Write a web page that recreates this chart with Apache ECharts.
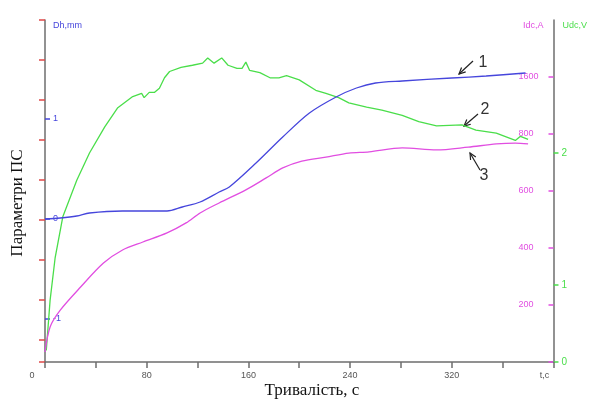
<!DOCTYPE html>
<html>
<head>
<meta charset="utf-8">
<script src="https://cdn.jsdelivr.net/npm/echarts@6/dist/echarts.min.js"></script>
<style>
  html, body { margin: 0; padding: 0; background: #fff; }
  #main { width: 590px; height: 401px; }
</style>
</head>
<body>
<div id="main"></div>
<script>
// time axis, s
var xTicks = [0, 40, 80, 120, 160, 200, 240, 280, 320, 360, 400];
var xTickLabels = ['0', '', '80', '', '160', '', '240', '', '320', '', 't,c'];

// curve 1 - Dh, mm
var dhTime = [0, 12, 25, 35, 61, 96, 108, 122, 137, 145, 166, 187, 208, 229, 245, 260, 281, 320, 347, 378];
var dhValues = [0, 0.01, 0.03, 0.06, 0.08, 0.08, 0.12, 0.17, 0.27, 0.32, 0.56, 0.82, 1.06, 1.22, 1.31, 1.36, 1.38, 1.41, 1.43, 1.46];
var dhTicks = [-1, 0, 1];

// curve 2 - Udc, V
var udcTime = [1, 4, 8, 14, 25, 35, 47, 57, 69, 76, 78, 82, 86, 90, 94, 98, 107, 116, 124, 128, 133, 139, 144, 151, 155, 158, 161, 169, 177, 184, 190, 200, 213, 221, 231, 239, 253, 265, 281, 294, 308, 328, 339, 355, 370, 374, 380];
var udcValues = [0.11, 0.59, 1.0, 1.39, 1.74, 2.0, 2.25, 2.43, 2.54, 2.57, 2.53, 2.58, 2.58, 2.62, 2.72, 2.78, 2.82, 2.84, 2.86, 2.91, 2.86, 2.91, 2.84, 2.81, 2.81, 2.87, 2.79, 2.77, 2.72, 2.72, 2.74, 2.7, 2.6, 2.57, 2.53, 2.48, 2.44, 2.41, 2.36, 2.3, 2.26, 2.27, 2.22, 2.19, 2.12, 2.16, 2.13];
var udcTicks = [0, 0.737, 2];
var udcTickLabels = ['0', '1', '2'];

// curve 3 - Idc, A
var idcTime = [0, 4, 12, 28, 46, 61, 77, 96, 111, 122, 137, 158, 174, 187, 202, 221, 239, 255, 281, 308, 333, 355, 370, 380];
var idcValues = [35, 123, 182, 263, 347, 393, 421, 453, 488, 523, 558, 604, 646, 681, 705, 719, 733, 737, 751, 744, 754, 765, 768, 765];
var idcTicks = [0, 200, 400, 600, 800, 1000];
var idcLabelValues = [200, 400, 600, 800, 1000];
var idcTickLabels = ['200', '400', '600', '800', '1600'];

// red scale marks on the left axis (no labels)
var redTicks = [0, 22, 62, 102, 142, 182, 222, 262, 302, 342];

function pairs(xs, ys) {
  var out = [];
  for (var i = 0; i < xs.length; i++) out.push([xs[i], ys[i]]);
  return out;
}

function arrow(x1, y1, x2, y2) {
  // shaft from (x1,y1) to tip (x2,y2) with a small V head
  var dx = x2 - x1, dy = y2 - y1;
  var len = Math.sqrt(dx * dx + dy * dy);
  var ux = dx / len, uy = dy / len;
  var h = 7, a = 0.45;
  var c = Math.cos(a), s = Math.sin(a);
  var p1 = [x2 - h * (ux * c - uy * s), y2 - h * (uy * c + ux * s)];
  var p2 = [x2 - h * (ux * c + uy * s), y2 - h * (uy * c - ux * s)];
  return [
    { type: 'line', shape: { x1: x1, y1: y1, x2: x2, y2: y2 }, style: { stroke: '#222', lineWidth: 1.2 } },
    { type: 'polyline', shape: { points: [p1, [x2, y2], p2] }, style: { stroke: '#222', lineWidth: 1.2, fill: null } }
  ];
}

var axisGray = '#6e6e6e';
var labelFont = 'Liberation Sans';
var blue = '#4646dc';
var green = '#4ade4a';
var magenta = '#e14ee1';

var chart = echarts.init(document.getElementById('main'), null, { renderer: 'canvas' });

var graphics = [];
graphics = graphics.concat(arrow(473, 61, 459, 74));
graphics = graphics.concat(arrow(478, 114, 464, 126));
graphics = graphics.concat(arrow(480, 170, 470, 153));
graphics.push({ type: 'text', x: 483, y: 63, style: { text: '1', font: '16px "Liberation Sans"', fill: '#333', textAlign: 'center', textVerticalAlign: 'middle' } });
graphics.push({ type: 'text', x: 485, y: 110, style: { text: '2', font: '16px "Liberation Sans"', fill: '#333', textAlign: 'center', textVerticalAlign: 'middle' } });
graphics.push({ type: 'text', x: 484, y: 176, style: { text: '3', font: '16px "Liberation Sans"', fill: '#333', textAlign: 'center', textVerticalAlign: 'middle' } });
graphics.push({ type: 'text', x: 18, y: 203, rotation: Math.PI / 2, style: { text: 'Параметри ПС', font: '17px "Liberation Serif"', fill: '#111', textAlign: 'center', textVerticalAlign: 'middle' } });
graphics.push({ type: 'text', x: 312, y: 391, style: { text: 'Тривалість, с', font: '17px "Liberation Serif"', fill: '#111', textAlign: 'center', textVerticalAlign: 'middle' } });

var option = {
  animation: false,
  backgroundColor: '#fff',
  grid: { left: 45, right: 34, top: 20, bottom: 39 },
  xAxis: {
    type: 'value',
    min: 0,
    max: 400,
    interval: 40,
    splitLine: { show: false },
    axisLine: { onZero: false, lineStyle: { color: axisGray, width: 1.5 } },
    axisTick: { length: 6, lineStyle: { color: axisGray, width: 1.5 } },
    axisLabel: {
      color: '#555',
      fontFamily: labelFont,
      fontSize: 9,
      margin: 9,
      showMinLabel: true,
      showMaxLabel: true,
      formatter: function (v) {
        var i = xTicks.indexOf(v);
        var s = i >= 0 ? xTickLabels[i] : '';
        if (v === 0) return '{z|' + s + '}';
        if (v === 400) return '{e|' + s + '}';
        return s;
      },
      rich: {
        z: { color: '#555', fontFamily: labelFont, fontSize: 9, padding: [0, 26, 0, 0] },
        e: { color: '#555', fontFamily: labelFont, fontSize: 9, padding: [0, 18, 0, 0] }
      }
    }
  },
  yAxis: [
    {
      // Dh, mm
      type: 'value',
      position: 'left',
      min: -1.43,
      max: 1.99,
      name: 'Dh,mm',
      nameLocation: 'end',
      nameGap: -6,
      nameTextStyle: { color: blue, fontFamily: labelFont, fontSize: 9, align: 'left', verticalAlign: 'middle', padding: [0, 0, 0, 8] },
      splitLine: { show: false },
      axisLine: { show: true, onZero: false, lineStyle: { color: axisGray, width: 1.5 } },
      axisTick: { show: true, inside: true, length: 5, customValues: dhTicks, lineStyle: { color: blue, width: 1.5 } },
      axisLabel: { inside: true, margin: 8, color: blue, fontFamily: labelFont, fontSize: 9, customValues: dhTicks }
    },
    {
      // red marks, no labels
      type: 'value',
      position: 'left',
      min: 0,
      max: 342,
      splitLine: { show: false },
      axisLine: { show: false },
      axisTick: { show: true, length: 6, customValues: redTicks, lineStyle: { color: '#e04848', width: 1.5 } },
      axisLabel: { show: false }
    },
    {
      // Idc, A
      type: 'value',
      position: 'right',
      min: 0,
      max: 1200,
      interval: 200,
      name: 'Idc,A',
      nameLocation: 'end',
      nameGap: -6,
      nameTextStyle: { color: magenta, fontFamily: labelFont, fontSize: 9, align: 'right', verticalAlign: 'middle', padding: [0, 10, 0, 0] },
      splitLine: { show: false },
      axisLine: { show: true, onZero: false, lineStyle: { color: axisGray, width: 1.5 } },
      axisTick: { show: true, inside: true, length: 5, customValues: idcTicks, lineStyle: { color: magenta, width: 1.5 } },
      axisLabel: {
        inside: true,
        margin: 35,
        align: 'left',
        color: magenta,
        fontFamily: labelFont,
        fontSize: 9,
        customValues: idcLabelValues,
        formatter: function (v) {
          var i = idcLabelValues.indexOf(v);
          return i >= 0 ? idcTickLabels[i] : '';
        }
      }
    },
    {
      // Udc, V
      type: 'value',
      position: 'right',
      min: 0,
      max: 3.273,
      name: 'Udc,V',
      nameLocation: 'end',
      nameGap: -6,
      nameTextStyle: { color: green, fontFamily: labelFont, fontSize: 9, align: 'left', verticalAlign: 'middle', padding: [0, 0, 0, 9] },
      splitLine: { show: false },
      axisLine: { show: false },
      axisTick: { show: true, length: 5, customValues: udcTicks, lineStyle: { color: green, width: 1.5 } },
      axisLabel: {
        margin: 8,
        color: green,
        fontFamily: labelFont,
        fontSize: 10,
        customValues: udcTicks,
        formatter: function (v) {
          var i = udcTicks.indexOf(v);
          return i >= 0 ? udcTickLabels[i] : '';
        }
      }
    }
  ],
  series: [
    {
      name: 'Udc',
      type: 'line',
      yAxisIndex: 3,
      showSymbol: false,
      data: pairs(udcTime, udcValues),
      lineStyle: { color: green, width: 1.3 },
      itemStyle: { color: green }
    },
    {
      name: 'Dh',
      type: 'line',
      yAxisIndex: 0,
      showSymbol: false,
      smooth: 0.3,
      data: pairs(dhTime, dhValues),
      lineStyle: { color: blue, width: 1.3 },
      itemStyle: { color: blue }
    },
    {
      name: 'Idc',
      type: 'line',
      yAxisIndex: 2,
      showSymbol: false,
      smooth: 0.3,
      data: pairs(idcTime, idcValues),
      lineStyle: { color: magenta, width: 1.3 },
      itemStyle: { color: magenta }
    }
  ],
  graphic: graphics
};

chart.setOption(option);
</script>
</body>
</html>
